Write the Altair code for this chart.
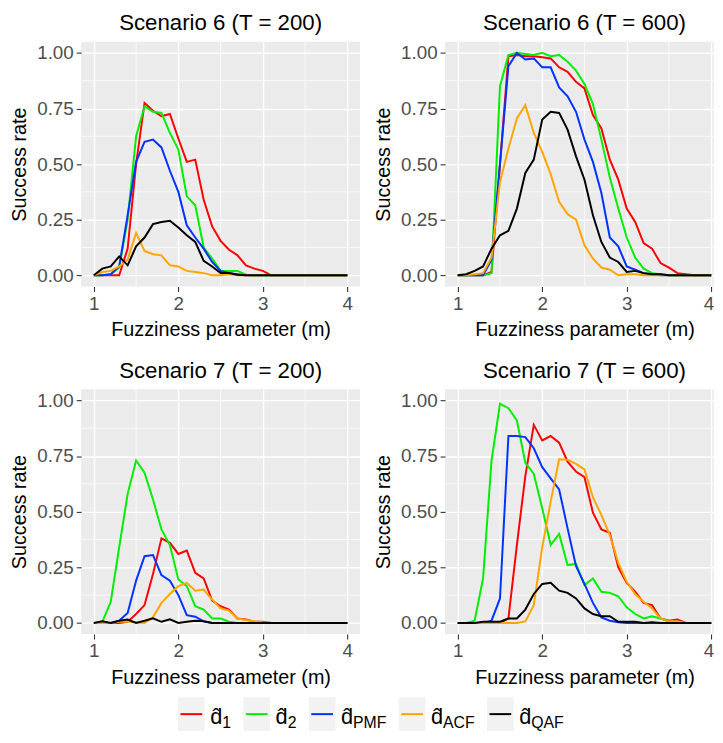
import altair as alt
import pandas as pd

# ---------------- data ----------------
m_values = [1.0, 1.1, 1.2, 1.3, 1.4, 1.5, 1.6, 1.7, 1.8, 1.9, 2.0,
            2.1, 2.2, 2.3, 2.4, 2.5, 2.6, 2.7, 2.8, 2.9, 3.0,
            3.1, 3.2, 3.3, 3.4, 3.5, 3.6, 3.7, 3.8, 3.9, 4.0]

series_keys = ["d1", "d2", "dPMF", "dACF", "dQAF"]
series_subs = ["1", "2", "PMF", "ACF", "QAF"]
series_colors = ["#FF0000", "#00EE00", "#0033FF", "#FFA500", "#000000"]

panel_titles = ["Scenario 6 (T = 200)", "Scenario 6 (T = 600)",
                "Scenario 7 (T = 200)", "Scenario 7 (T = 600)"]

# Scenario 6, T = 200
s6_200_d1 = [0, 0, 0, 0, 0.12, 0.50, 0.775, 0.74, 0.715, 0.725, 0.615,
             0.51, 0.52, 0.34, 0.22, 0.155, 0.115, 0.09, 0.045, 0.03, 0.02,
             0, 0, 0, 0, 0, 0, 0, 0, 0, 0]
s6_200_d2 = [0, 0, 0.005, 0.035, 0.25, 0.625, 0.76, 0.735, 0.73, 0.64, 0.565,
             0.355, 0.315, 0.125, 0.075, 0.02, 0.02, 0.02, 0.003, 0, 0,
             0, 0, 0, 0, 0, 0, 0, 0, 0, 0]
s6_200_pmf = [0, 0, 0.005, 0.04, 0.27, 0.51, 0.60, 0.61, 0.575, 0.47, 0.375,
              0.225, 0.17, 0.12, 0.06, 0.02, 0.01, 0.005, 0, 0, 0,
              0, 0, 0, 0, 0, 0, 0, 0, 0, 0]
s6_200_acf = [0, 0.015, 0.02, 0.04, 0.07, 0.19, 0.11, 0.095, 0.09, 0.045, 0.04,
              0.02, 0.015, 0.01, 0, 0, 0.005, 0, 0, 0, 0,
              0, 0, 0, 0, 0, 0, 0, 0, 0, 0]
s6_200_qaf = [0, 0.03, 0.04, 0.085, 0.045, 0.13, 0.17, 0.23, 0.24, 0.245, 0.215,
              0.18, 0.15, 0.065, 0.04, 0.01, 0.01, 0.003, 0, 0, 0,
              0, 0, 0, 0, 0, 0, 0, 0, 0, 0]

# Scenario 6, T = 600
s6_600_d1 = [0, 0, 0, 0, 0.015, 0.50, 0.985, 0.99, 0.985, 0.985, 0.98,
             0.975, 0.935, 0.915, 0.87, 0.84, 0.72, 0.66, 0.52, 0.43, 0.30,
             0.24, 0.145, 0.12, 0.055, 0.035, 0.01, 0.005, 0, 0, 0]
s6_600_d2 = [0, 0, 0, 0, 0.01, 0.85, 0.99, 1.0, 0.995, 0.99, 1.0,
             0.985, 0.99, 0.96, 0.92, 0.86, 0.77, 0.61, 0.44, 0.30, 0.17,
             0.08, 0.03, 0.01, 0.005, 0, 0, 0, 0, 0, 0]
s6_600_pmf = [0, 0, 0, 0, 0.07, 0.50, 0.94, 1.0, 0.97, 0.975, 0.935,
              0.935, 0.845, 0.805, 0.735, 0.61, 0.51, 0.37, 0.17, 0.13, 0.04,
              0.025, 0.01, 0.005, 0, 0, 0, 0, 0, 0, 0]
s6_600_acf = [0, 0, 0.005, 0.01, 0.08, 0.42, 0.57, 0.705, 0.765, 0.64, 0.555,
              0.455, 0.33, 0.275, 0.25, 0.135, 0.075, 0.035, 0.025, 0, 0.005,
              0.005, 0, 0, 0, 0, 0, 0, 0, 0, 0]
s6_600_qaf = [0, 0.005, 0.02, 0.04, 0.12, 0.18, 0.20, 0.30, 0.46, 0.52, 0.70,
              0.735, 0.73, 0.655, 0.535, 0.43, 0.27, 0.15, 0.08, 0.06, 0.015,
              0.02, 0.01, 0.005, 0.005, 0, 0, 0, 0, 0, 0]

# Scenario 7, T = 200
s7_200_d1 = [0, 0, 0, 0, 0.005, 0.04, 0.08, 0.22, 0.38, 0.36, 0.31,
             0.325, 0.225, 0.20, 0.10, 0.075, 0.06, 0.02, 0.015, 0.005, 0.005,
             0, 0, 0, 0, 0, 0, 0, 0, 0, 0]
s7_200_d2 = [0, 0.005, 0.095, 0.34, 0.58, 0.73, 0.675, 0.555, 0.42, 0.35, 0.195,
             0.165, 0.075, 0.06, 0.02, 0.02, 0.005, 0, 0, 0, 0,
             0, 0, 0, 0, 0, 0, 0, 0, 0, 0]
s7_200_pmf = [0, 0, 0, 0.01, 0.045, 0.19, 0.30, 0.305, 0.215, 0.19, 0.125,
              0.035, 0.028, 0.007, 0, 0, 0, 0, 0, 0, 0,
              0, 0, 0, 0, 0, 0, 0, 0, 0, 0]
s7_200_acf = [0, 0, 0, 0.005, 0.005, 0.003, 0, 0.025, 0.09, 0.13, 0.165,
              0.18, 0.145, 0.15, 0.105, 0.065, 0.055, 0.02, 0.013, 0.007, 0.003,
              0, 0, 0, 0, 0, 0, 0, 0, 0, 0]
s7_200_qaf = [0, 0.007, 0, 0.01, 0.015, 0, 0.01, 0.021, 0.005, 0.016, 0,
              0.005, 0.01, 0.007, 0, 0, 0, 0, 0, 0, 0,
              0, 0, 0, 0, 0, 0, 0, 0, 0, 0]

# Scenario 7, T = 600
s7_600_d1 = [0, 0, 0, 0, 0, 0, 0.02, 0.35, 0.66, 0.89, 0.82,
             0.84, 0.81, 0.725, 0.68, 0.655, 0.495, 0.42, 0.405, 0.25, 0.18,
             0.14, 0.09, 0.08, 0.02, 0.01, 0.015, 0, 0, 0, 0]
s7_600_d2 = [0, 0, 0.01, 0.20, 0.73, 0.985, 0.965, 0.91, 0.72, 0.67, 0.515,
             0.35, 0.40, 0.26, 0.265, 0.17, 0.20, 0.14, 0.135, 0.12, 0.07,
             0.04, 0.02, 0.03, 0.02, 0.005, 0, 0, 0, 0, 0]
s7_600_pmf = [0, 0, 0, 0, 0.01, 0.11, 0.84, 0.84, 0.835, 0.785, 0.70,
              0.65, 0.60, 0.425, 0.255, 0.175, 0.09, 0.025, 0.01, 0.003, 0,
              0, 0, 0, 0, 0, 0, 0, 0, 0, 0]
s7_600_acf = [0, 0, 0, 0, 0, 0, 0, 0, 0.007, 0.08, 0.34,
              0.545, 0.735, 0.733, 0.715, 0.69, 0.565, 0.485, 0.395, 0.27, 0.185,
              0.13, 0.095, 0.065, 0.02, 0.007, 0.007, 0, 0, 0, 0]
s7_600_qaf = [0, 0, 0, 0.005, 0.005, 0.005, 0.02, 0.02, 0.06, 0.13, 0.175,
              0.18, 0.145, 0.135, 0.11, 0.065, 0.04, 0.03, 0.03, 0.005, 0.005,
              0.005, 0, 0.003, 0, 0, 0, 0, 0, 0, 0]

panel_series = [
    [s6_200_d1, s6_200_d2, s6_200_pmf, s6_200_acf, s6_200_qaf],
    [s6_600_d1, s6_600_d2, s6_600_pmf, s6_600_acf, s6_600_qaf],
    [s7_200_d1, s7_200_d2, s7_200_pmf, s7_200_acf, s7_200_qaf],
    [s7_600_d1, s7_600_d2, s7_600_pmf, s7_600_acf, s7_600_qaf],
]

x_major = [1, 2, 3, 4]
x_minor = [1.5, 2.5, 3.5]
y_major = [0, 0.25, 0.5, 0.75, 1.0]
y_minor = [0.125, 0.375, 0.625, 0.875]

# ---------------- style ----------------
FONT = "Liberation Sans"
PH = 247.5
FULL_W = 282
PX_PER_UNIT = FULL_W / 3.3       # same x scale in every panel
LEFT_DOMAIN = [0.85, 4.15]       # full panel on the left
RIGHT_DOMAIN = [0.85, 4.03]      # right column is cut at the page edge, as in the reference
GRAY_BG = "#EBEBEB"

y_scale = alt.Scale(domain=[-0.05, 1.05], nice=False, zero=False)
color_scale = alt.Scale(domain=series_keys, range=series_colors)


def make_panel(title, values_list, right):
    xdom = RIGHT_DOMAIN if right else LEFT_DOMAIN
    x_scale = alt.Scale(domain=xdom, nice=False, zero=False)
    pw = (xdom[1] - xdom[0]) * PX_PER_UNIT
    rows = []
    for key, vals in zip(series_keys, values_list):
        for m, v in zip(m_values, vals):
            rows.append({"m": m, "rate": v, "series": key})
    df = pd.DataFrame(rows)

    vminor = alt.Chart(pd.DataFrame({"m": x_minor})).mark_rule(
        color="white", strokeWidth=0.7).encode(x=alt.X("m:Q", scale=x_scale))
    hminor = alt.Chart(pd.DataFrame({"rate": y_minor})).mark_rule(
        color="white", strokeWidth=0.7).encode(y=alt.Y("rate:Q", scale=y_scale))

    xaxis_kw = dict(values=x_major, format="d", title="Fuzziness parameter (m)")
    if right:
        # the last label sits at the page edge: keep it inside the page
        xaxis_kw.update(
            titleX=FULL_W / 2,
            labelAlign={"condition": {"test": "datum.value === 4", "value": "right"},
                        "value": "center"},
            labelOffset={"condition": {"test": "datum.value === 4", "value": 2.5},
                         "value": 0},
        )
    lines = alt.Chart(df).mark_line(strokeWidth=2, clip=True).encode(
        x=alt.X("m:Q", scale=x_scale, axis=alt.Axis(**xaxis_kw)),
        y=alt.Y("rate:Q", scale=y_scale,
                axis=alt.Axis(values=y_major, format=".2f",
                              title="Success rate")),
        color=alt.Color("series:N", scale=color_scale, legend=None),
        order=alt.Order("m:Q"),
    )
    return alt.layer(vminor, hminor, lines).properties(
        width=pw, height=PH,
        view=alt.ViewBackground(fill=GRAY_BG, stroke=None),
        title=alt.TitleParams(title, fontSize=22.5, font=FONT,
                              fontWeight="normal", color="black",
                              anchor="middle", offset=7,
                              dx=(FULL_W - pw) / 2 if right else 0),
    )


panels = [make_panel(t, s, i % 2 == 1)
          for i, (t, s) in enumerate(zip(panel_titles, panel_series))]

# ---------------- legend (built from the series lists) ----------------
D_FS, SUB_FS = 22, 16
KEY_W, KEY_H, GAP_IN, GAP_OUT = 27, 34, 5.5, 12.5
char_w = {"1": .556, "2": .556, "P": .667, "M": .833, "F": .611,
          "A": .667, "C": .722, "Q": .778}
label_w = [0.556 * D_FS + sum(char_w[c] for c in s) * SUB_FS for s in series_subs]
total_w = sum(KEY_W + GAP_IN + w for w in label_w) + GAP_OUT * (len(series_keys) - 1)
LEG_W = 560
# legend centred on the whole figure; its origin sits at the plot's left edge
start = 293 - total_w / 2
leg_rows = []
cur = start
for key, sub, w in zip(series_keys, series_subs, label_w):
    leg_rows.append({"series": key, "sub": sub, "k0": cur, "k1": cur + KEY_W,
                     "l0": cur + 2.5, "l1": cur + KEY_W - 2.5,
                     "tx": cur + KEY_W + GAP_IN,
                     "sx": cur + KEY_W + GAP_IN + 0.556 * D_FS, "hat": "d\u0302"})
    cur += KEY_W + GAP_IN + w + GAP_OUT
leg_df = pd.DataFrame(leg_rows)
lx = alt.Scale(domain=[0, LEG_W], nice=False, zero=False)

leg_base = alt.Chart(leg_df)
leg_keys = leg_base.mark_rect(fill="#F2F2F2").encode(
    x=alt.X("k0:Q", scale=lx, axis=None), x2="k1:Q",
    y=alt.value(0), y2=alt.value(KEY_H))
leg_lines = leg_base.mark_rule(strokeWidth=2).encode(
    x=alt.X("l0:Q", scale=lx, axis=None), x2="l1:Q", y=alt.value(KEY_H / 2),
    color=alt.Color("series:N", scale=color_scale, legend=None))
leg_d = leg_base.mark_text(align="left", baseline="alphabetic", fontSize=D_FS,
                           font=FONT, color="black").encode(
    x=alt.X("tx:Q", scale=lx, axis=None), y=alt.value(26.5), text="hat:N")
leg_sub = leg_base.mark_text(align="left", baseline="alphabetic", fontSize=SUB_FS,
                             font=FONT, color="black").encode(
    x=alt.X("sx:Q", scale=lx, axis=None), y=alt.value(31), text="sub:N")
legend = alt.layer(leg_keys, leg_lines, leg_d, leg_sub).properties(
    width=LEG_W, height=KEY_H, view=alt.ViewBackground(fill=None, stroke=None))

grid = alt.vconcat(
    alt.hconcat(panels[0], panels[1], spacing=13),
    alt.hconcat(panels[2], panels[3], spacing=13),
    spacing=19.5,
)
chart = alt.vconcat(grid, legend, spacing=10).properties(
    padding={"left": 2, "top": 0, "right": 0, "bottom": 0}
).configure_view(stroke=None).configure_axis(
    domain=False, grid=True, gridColor="white", gridWidth=1.4,
    tickColor="#333333", tickWidth=1.1, tickSize=5,
    labelColor="#4D4D4D", labelFont=FONT, labelFontSize=19, labelPadding=3,
    titleFont=FONT, titleFontSize=20, titleFontWeight="normal",
    titleColor="black", titlePadding=7,
)

chart.save("out.html", embed_options={"renderer": "svg", "actions": False})
